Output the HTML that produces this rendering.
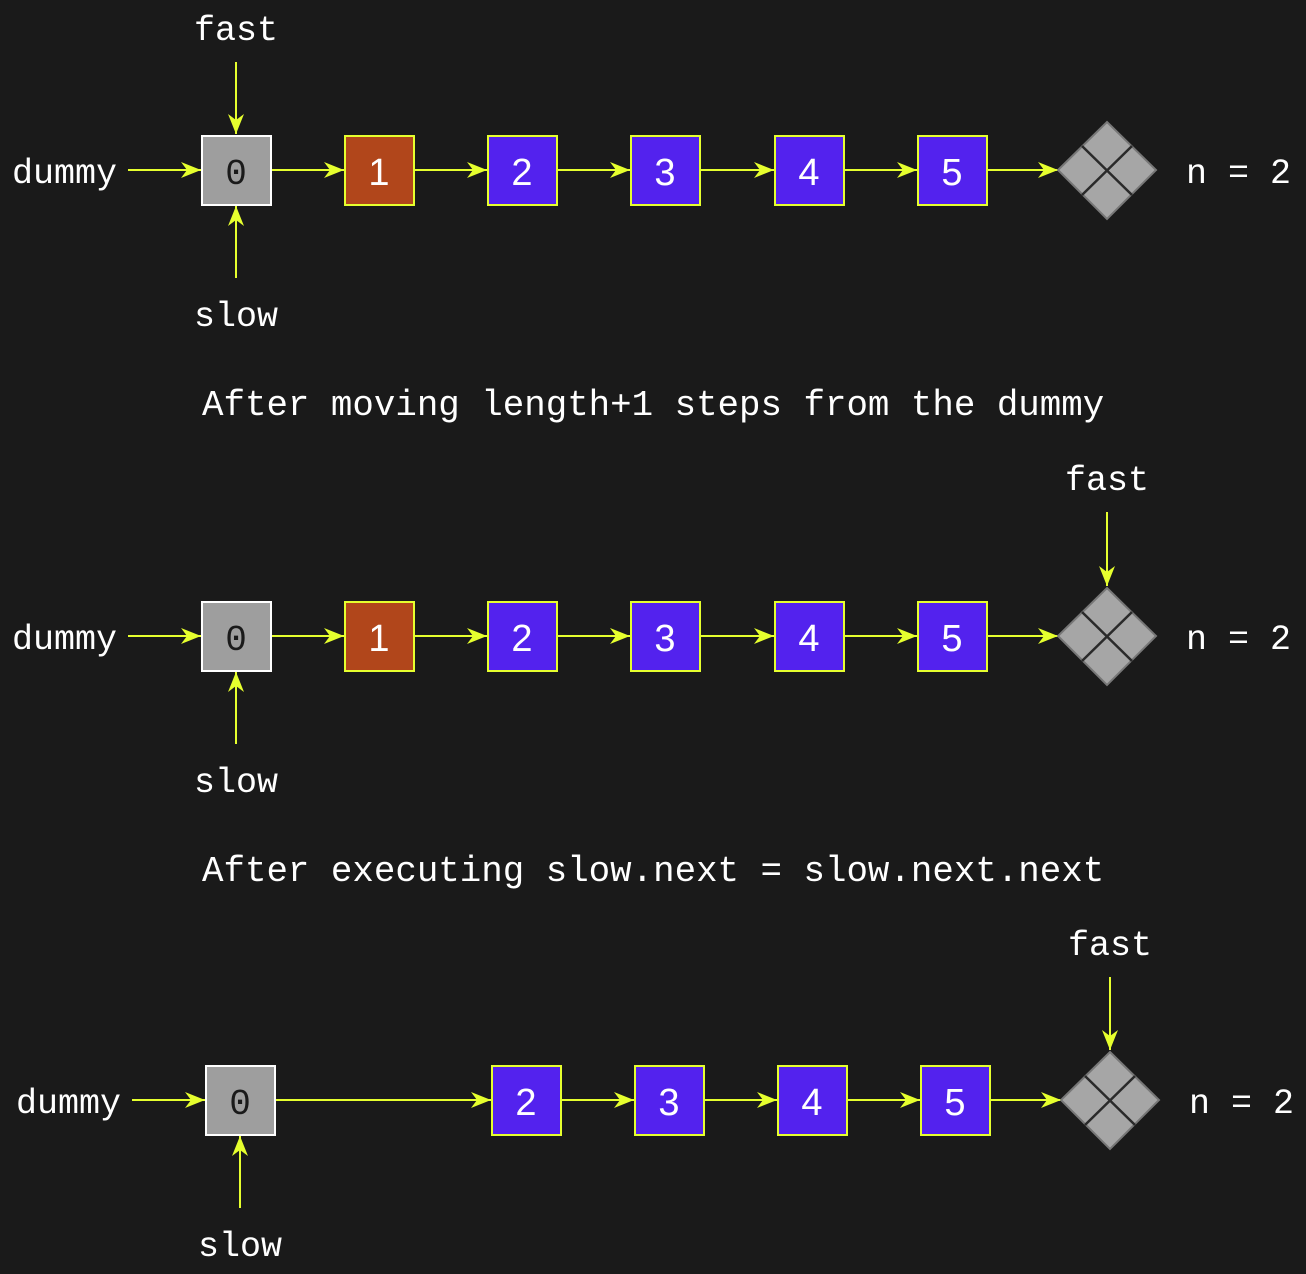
<!DOCTYPE html>
<html><head><meta charset="utf-8"><style>
html,body{margin:0;padding:0;background:#1a1a1a;}
svg{display:block}
.m{font-family:"Liberation Mono",monospace;font-size:35px;fill:#fff}
.c{font-size:35.8px}
.n{font-family:"Liberation Sans",sans-serif;font-size:38px;fill:#fff;text-anchor:middle}
.z{font-family:"Liberation Mono",monospace;font-size:36px;fill:#1a1a1a;text-anchor:middle}
.a{stroke:#e6ff2e;stroke-width:2;fill:none;marker-end:url(#ah)}
.b{fill:#5322ee;stroke:#e6ff2e;stroke-width:2}
.r{fill:#b1461b;stroke:#e6ff2e;stroke-width:2}
.g{fill:#9e9e9e;stroke:#fff;stroke-width:2}
.d{fill:#a6a6a6;stroke:#777;stroke-width:2}
</style></head><body>
<svg width="1306" height="1274" viewBox="0 0 1306 1274" xmlns="http://www.w3.org/2000/svg">
<defs><marker id="ah" viewBox="0 0 20 16" refX="20" refY="8" markerWidth="20" markerHeight="16" markerUnits="userSpaceOnUse" orient="auto"><path d="M0,0 L20,8 L0,16 L6,8 Z" fill="#e6ff2e"/></marker></defs>

<g>
<text class="m" x="194" y="40">fast</text>
<line class="a" x1="236" y1="62" x2="236" y2="134"/>
<text class="m" x="12" y="183">dummy</text>
<line class="a" x1="128" y1="170" x2="201" y2="170"/>
<rect class="g" x="202" y="136" width="69" height="69"/><text class="z" x="236" y="184">0</text>
<line class="a" x1="272" y1="170" x2="344" y2="170"/>
<rect class="r" x="345" y="136" width="69" height="69"/><text class="n" x="379" y="185">1</text>
<line class="a" x1="415" y1="170" x2="487" y2="170"/>
<rect class="b" x="488" y="136" width="69" height="69"/><text class="n" x="522" y="185">2</text>
<line class="a" x1="558" y1="170" x2="630" y2="170"/>
<rect class="b" x="631" y="136" width="69" height="69"/><text class="n" x="665" y="185">3</text>
<line class="a" x1="701" y1="170" x2="774" y2="170"/>
<rect class="b" x="775" y="136" width="69" height="69"/><text class="n" x="809" y="185">4</text>
<line class="a" x1="845" y1="170" x2="917" y2="170"/>
<rect class="b" x="918" y="136" width="69" height="69"/><text class="n" x="952" y="185">5</text>
<line class="a" x1="988" y1="170" x2="1058" y2="170"/>
<path class="d" d="M1107,122 L1156,170 L1107,219 L1058,170 Z"/>
<path d="M1082,146 L1132,195 M1132,146 L1082,195" stroke="#2a2a2a" stroke-width="2.5"/>
<text class="m" x="1186" y="183">n = 2</text>
<line class="a" x1="236" y1="278" x2="236" y2="206"/>
<text class="m" x="194" y="326">slow</text>
</g>

<text class="m c" x="202" y="415">After moving length+1 steps from the dummy</text>

<g transform="translate(0,466)">
<text class="m" x="1065" y="24">fast</text>
<line class="a" x1="1107" y1="46" x2="1107" y2="120"/>
<text class="m" x="12" y="183">dummy</text>
<line class="a" x1="128" y1="170" x2="201" y2="170"/>
<rect class="g" x="202" y="136" width="69" height="69"/><text class="z" x="236" y="184">0</text>
<line class="a" x1="272" y1="170" x2="344" y2="170"/>
<rect class="r" x="345" y="136" width="69" height="69"/><text class="n" x="379" y="185">1</text>
<line class="a" x1="415" y1="170" x2="487" y2="170"/>
<rect class="b" x="488" y="136" width="69" height="69"/><text class="n" x="522" y="185">2</text>
<line class="a" x1="558" y1="170" x2="630" y2="170"/>
<rect class="b" x="631" y="136" width="69" height="69"/><text class="n" x="665" y="185">3</text>
<line class="a" x1="701" y1="170" x2="774" y2="170"/>
<rect class="b" x="775" y="136" width="69" height="69"/><text class="n" x="809" y="185">4</text>
<line class="a" x1="845" y1="170" x2="917" y2="170"/>
<rect class="b" x="918" y="136" width="69" height="69"/><text class="n" x="952" y="185">5</text>
<line class="a" x1="988" y1="170" x2="1058" y2="170"/>
<path class="d" d="M1107,122 L1156,170 L1107,219 L1058,170 Z"/>
<path d="M1082,146 L1132,195 M1132,146 L1082,195" stroke="#2a2a2a" stroke-width="2.5"/>
<text class="m" x="1186" y="183">n = 2</text>
<line class="a" x1="236" y1="278" x2="236" y2="206"/>
<text class="m" x="194" y="326">slow</text>
</g>

<text class="m c" x="202" y="881">After executing slow.next = slow.next.next</text>

<g transform="translate(3,930)">
<text class="m" x="1065" y="25">fast</text>
<line class="a" x1="1107" y1="47" x2="1107" y2="120"/>
<text class="m" x="13" y="183">dummy</text>
<line class="a" x1="129" y1="170" x2="202" y2="170"/>
<rect class="g" x="203" y="136" width="69" height="69"/><text class="z" x="237" y="184">0</text>
<line class="a" x1="273" y1="170" x2="488" y2="170"/>
<rect class="b" x="489" y="136" width="69" height="69"/><text class="n" x="523" y="185">2</text>
<line class="a" x1="559" y1="170" x2="631" y2="170"/>
<rect class="b" x="632" y="136" width="69" height="69"/><text class="n" x="666" y="185">3</text>
<line class="a" x1="702" y1="170" x2="774" y2="170"/>
<rect class="b" x="775" y="136" width="69" height="69"/><text class="n" x="809" y="185">4</text>
<line class="a" x1="845" y1="170" x2="917" y2="170"/>
<rect class="b" x="918" y="136" width="69" height="69"/><text class="n" x="952" y="185">5</text>
<line class="a" x1="988" y1="170" x2="1058" y2="170"/>
<path class="d" d="M1107,122 L1156,170 L1107,219 L1058,170 Z"/>
<path d="M1082,146 L1132,195 M1132,146 L1082,195" stroke="#2a2a2a" stroke-width="2.5"/>
<text class="m" x="1186" y="183">n = 2</text>
<line class="a" x1="237" y1="278" x2="237" y2="206"/>
<text class="m" x="195" y="326">slow</text>
</g>
</svg>
</body></html>
